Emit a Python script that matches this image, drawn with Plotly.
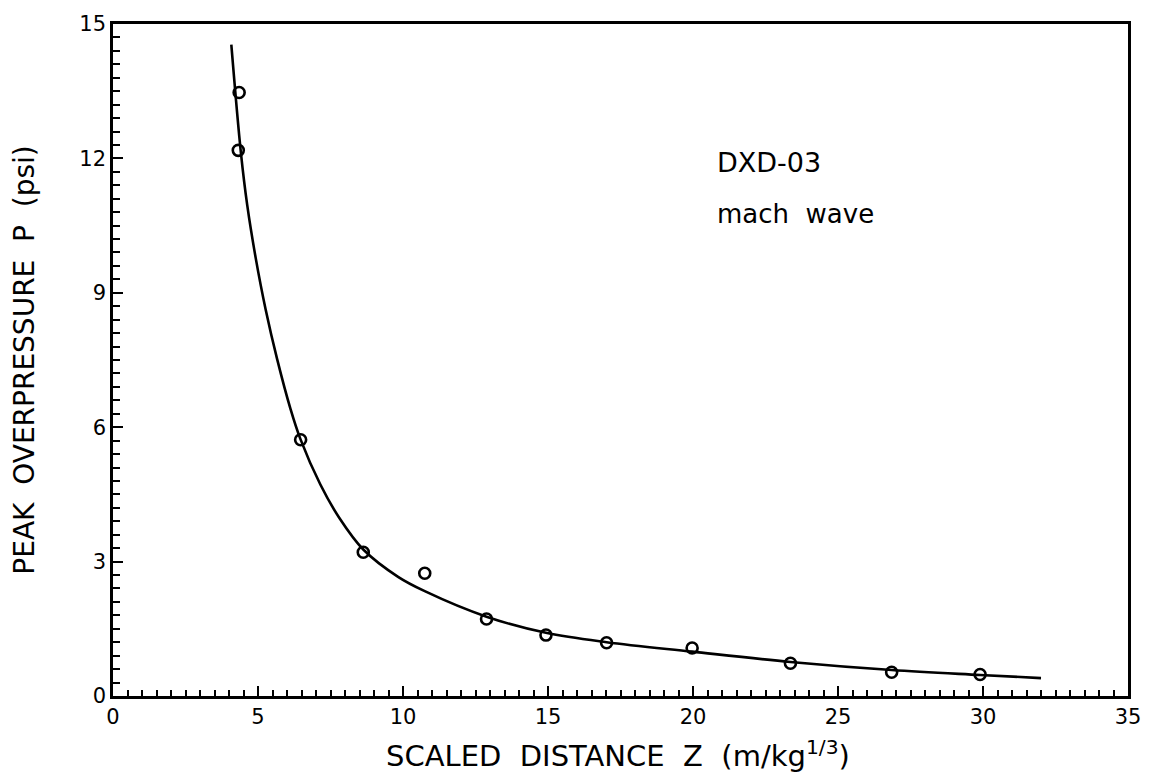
import plotly.graph_objects as go

# Measured data points (scaled distance Z, peak overpressure P)
z_data = [4.35, 4.32, 6.47, 8.63, 10.75, 12.88, 14.93, 17.02, 19.97, 23.36, 26.85, 29.9]
p_data = [13.47, 12.18, 5.72, 3.21, 2.74, 1.72, 1.36, 1.19, 1.07, 0.73, 0.53, 0.48]

# Fitted curve
z_fit = [4.08, 4.41, 4.63, 4.92, 5.26, 5.66, 6.12, 6.46, 7.15, 7.8, 8.63, 9.83,
         10.75, 12.88, 14.93, 17.02, 19.97, 23.36, 26.85, 29.9, 32.0]
p_fit = [14.54, 12.13, 10.95, 9.78, 8.64, 7.52, 6.41, 5.74, 4.72, 3.98, 3.27, 2.66,
         2.34, 1.77, 1.41, 1.20, 0.99, 0.76, 0.58, 0.47, 0.40]

x_ticks = [0, 5, 10, 15, 20, 25, 30, 35]
y_ticks = [0, 3, 6, 9, 12, 15]

FONT = "DejaVu Sans"

fig = go.Figure()
fig.add_trace(go.Scatter(x=z_fit, y=p_fit, mode="lines",
                         line=dict(color="black", width=2.6, shape="spline", smoothing=1.0),
                         showlegend=False, hoverinfo="skip"))
fig.add_trace(go.Scatter(x=z_data, y=p_data, mode="markers",
                         marker=dict(symbol="circle-open", size=11, color="black", line=dict(width=2.6)),
                         showlegend=False))

axis_common = dict(showgrid=False, zeroline=False, showline=True, linecolor="black", linewidth=2.6,
                   mirror=True, ticks="inside", tickcolor="black", tickwidth=2, ticklen=10,
                   tickfont=dict(family=FONT, size=21, color="black"))

fig.update_xaxes(range=[0, 35], tickvals=x_ticks, ticktext=[str(v) for v in x_ticks],
                 minor=dict(dtick=0.5, tick0=0, ticks="inside", ticklen=6, tickwidth=2, tickcolor="black"),
                 **axis_common)
fig.update_yaxes(range=[0, 15], tickvals=y_ticks, ticktext=[str(v) for v in y_ticks],
                 minor=dict(dtick=0.3, tick0=0, ticks="inside", ticklen=7, tickwidth=2, tickcolor="black"),
                 **axis_common)

fig.add_annotation(text="SCALED  DISTANCE  Z  (m/kg<sup>1/3</sup>)", xref="paper", yref="paper",
                   x=0.498, y=-0.087, xanchor="center", yanchor="middle", showarrow=False,
                   font=dict(family=FONT, size=29, color="black"))
fig.add_annotation(text="PEAK  OVERPRESSURE  P  (psi)", xref="paper", yref="paper",
                   x=-0.088, y=0.50, xanchor="center", yanchor="middle", textangle=-90, showarrow=False,
                   font=dict(family=FONT, size=28, color="black"))
fig.add_annotation(text="DXD-03", x=20.75, y=11.9, xanchor="left", yanchor="middle", showarrow=False,
                   font=dict(family=FONT, size=27, color="black"))
fig.add_annotation(text="mach  wave", x=20.75, y=10.75, xanchor="left", yanchor="middle", showarrow=False,
                   font=dict(family=FONT, size=26, color="black"))

fig.update_layout(width=1153, height=777, margin=dict(l=113, r=18, t=21, b=81),
                  plot_bgcolor="white", paper_bgcolor="white")

fig.write_html("out.html")
